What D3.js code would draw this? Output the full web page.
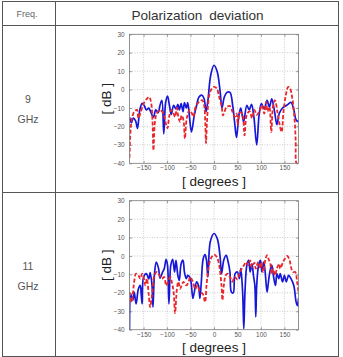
<!DOCTYPE html>
<html>
<head>
<meta charset="utf-8">
<script src="https://cdn.jsdelivr.net/npm/d3@7"></script>
<style>
  body { margin: 0; background: #fff; }
  svg { display: block; font-family: "Liberation Sans", Arial, sans-serif; }
</style>
</head>
<body>
<div id="chart"></div>
<script>
// ------ DATA ------
const freqs = ["9", "11"]
const xTicks = [-150, -100, -50, 0, 50, 100, 150]
const yTicks = [-40, -30, -20, -10, 0, 10, 20, 30]

// [degrees, dB]
const blue_9 = [
  [-180,-15],[-176,-18],[-172,-15.5],[-167,-17],[-163,-21],[-158,-11],[-153,-7.5],[-149,-8.5],
  [-144,-11],[-139,-10],[-135,-12],[-129,-15],[-124,-11],[-119,-12.5],[-115,-8.5],[-111,-5.8],
  [-107,-24],[-103,-7],[-99,-3.6],[-95,-8.5],[-91,-13.5],[-86,-8.5],[-81,-10.5],[-77,-8],
  [-74,-11],[-70,-7.6],[-66,-12],[-63,-7],[-59,-10],[-56,-7],[-52,-15.5],[-48,-23],
  [-42,-14],[-37,-8.5],[-32,-4],[-26,-3],[-21,-5],[-17,-12],[-13,-6],[-7,7.8],
  [0,13.2],[7,9.6],[13,-1],[17,-10],[22,-4],[28,-1.5],[34,-1.5],[40,-9],[44,-18],[48,-26],
  [53,-14],[57,-10],[63,-17.5],[70,-8.5],[75,-11],[80,-8],[85,-15],[91,-30],[96,-14],
  [101,-7.6],[107,-10.5],[113,-5.8],[118,-9.5],[123,-5],[129,-12],[134,-19],[139,-13],
  [146,-10],[155,-8.5],[164,-7],[170,-11],[175,-16.5],[180,-17.5]
]
const red_9 = [
  [-180,-37],[-178,-23],[-175,-16],[-170,-12],[-164,-11],[-161,-15.5],[-157,-13],[-150,-7.6],
  [-143,-5],[-138,-4],[-134,-7],[-131,-17],[-129,-33],[-126,-18],[-122,-13],[-115,-11],
  [-108,-13],[-102,-19],[-99,-21],[-95,-14],[-90,-11],[-86,-13],[-83,-14.8],[-79,-10],
  [-76,-14.8],[-72,-17.5],[-69,-14],[-65,-16.6],[-62,-26.6],[-58,-15.5],[-52,-11],[-47,-13],
  [-44,-14.8],[-40,-10],[-35,-7.6],[-30,-6.3],[-25,-5.8],[-21,-8.5],[-18.5,-19],[-17,-29],
  [-15,-17.5],[-10,-3],[-5,0.5],[0,1.5],[6,0.6],[11,-4],[16,-8.5],[19,-14],[21,-13],
  [27,-9.4],[34,-8.9],[39,-11.8],[44,-14.8],[48,-13],[51,-19.3],[55,-12.5],[60,-13],
  [65,-24.8],[70,-13.5],[76,-11.8],[81,-15.5],[86,-11],[91,-13.7],[97,-11.8],[102,-8.5],
  [107,-13],[111,-6.7],[114,-12],[118,-9.4],[122,-23],[126,-8.5],[130,-5.8],[135,-12],
  [140,-19.3],[144,-23],[148,-12],[153,-3],[158,1.5],[162,0.6],[167,-5],[172,-17.5],
  [174,-28],[176,-40],[180,-40]
]
const blue_11 = [
  [-180,-40],[-177,-21],[-173,-24],[-170,-19.6],[-166,-26],[-161,-17.8],[-157,-16],[-155,-21],
  [-153,-26],[-150,-11.4],[-144,-9.6],[-139,-12.5],[-136,-9],[-132,-16],[-130,-27.7],[-127,-10.5],
  [-123,-3.3],[-118,-6.9],[-115,-12],[-110,-9],[-106,-6.9],[-102,-1.8],[-99,-5],[-96,-26],
  [-92,-5],[-88,-1.8],[-84,-8.7],[-81,-2.4],[-77,-10.5],[-74,-13.2],[-70,-4.2],[-66,-2.3],
  [-63,-8.7],[-59,-12.3],[-56,-10.5],[-52,-11.4],[-49,-14],[-45,-23],[-42,-19.6],[-37,-14],
  [-33,-16],[-30,-23],[-27,-14],[-23,-1.5],[-19,0.7],[-16,-2.3],[-13,-11.4],[-8,7.6],
  [0,12.2],[7,9.4],[13,-0.5],[16,-9.6],[21,-2],[26,0.4],[30,-3],[34,-8.7],[37,-19.6],
  [41,-20],[45,-9.6],[50,-8.7],[54,-12.3],[57,-6.9],[61,-19.6],[63.5,-39.5],[66,-19.6],
  [70,-5],[74,-2.4],[77,-8.7],[81,-4.2],[84,-10.5],[87,-16],[89,-33],[91,-16],[95,-5],
  [99,-2.4],[102,-8.7],[106,-3.3],[109,-8.7],[113,-19.6],[116,-14],[119,-8.7],[123,-5],
  [127,-11.4],[131,-16],[134,-9.6],[138,-12.3],[141,-9.6],[146,-14],[150,-10.5],[154,-14],
  [159,-10.5],[164,-12.3],[170,-16],[175,-25],[178,-27],[180,-23]
]
const red_11 = [
  [-180,-19.6],[-175,-25],[-171,-16],[-166,-9.6],[-161,-10.5],[-157,-12.3],[-153,-9.6],[-150,-11.4],
  [-146,-16],[-143,-12.3],[-139,-21],[-136,-27.7],[-132,-21],[-127,-10.5],[-122,-8.7],[-116,-10.5],
  [-111,-12.3],[-106,-11.4],[-102,-16],[-98,-14],[-93,-11.4],[-90,-14],[-86,-19.6],[-83,-31],
  [-79,-17.8],[-76,-14],[-72,-17.8],[-69,-16],[-65,-14],[-59,-16],[-54,-14],[-51,-11.4],
  [-45,-14],[-40,-17.8],[-35,-16],[-30,-19.6],[-24,-20.5],[-19,-25],[-16,-16],[-12,-6.9],
  [-7,-1.5],[0,0.7],[6,-0.5],[11,-5],[16,-16],[18,-24],[21,-16],[25,-10.5],[30,-9.6],
  [34,-11.4],[39,-14],[44,-11.4],[50,-12.7],[54,-9.6],[59,-6.9],[64,-5],[68,-3.3],[73,-5],
  [77,-2.4],[81,-6],[86,-3.6],[89,-6.9],[94,-3.3],[99,-6.9],[101,-3.3],[105,-8.7],[109,-2.4],
  [113,0.4],[116,-1.5],[120,-4.2],[123,-9.6],[126,-6.9],[130,-10.5],[134,-6.9],[139,-4.2],
  [141,-6.9],[147,-3.3],[151,-1.5],[156,0],[161,-2.3],[164,-6],[168,-8.7],[173,-8.7],
  [177,-14],[180,-19.6]
]

const panels = [
  {freq: freqs[0], blue: blue_9, red: red_9, top: 34.3},
  {freq: freqs[1], blue: blue_11, red: red_11, top: 200.7}
]

// ------ TABLE ------
const W = 343, H = 357
const svg = d3.select("#chart").append("svg")
  .attr("width", W).attr("height", H)

const tbl = svg.append("g")
  .attr("fill", "none")
  .attr("stroke", "#555")
  .attr("stroke-width", 1)
tbl.append("rect").attr("x", 2.5).attr("y", 1.5).attr("width", 336).attr("height", 355)
tbl.append("line").attr("x1", 2.5).attr("x2", 338.5).attr("y1", 25.5).attr("y2", 25.5)
tbl.append("line").attr("x1", 2.5).attr("x2", 338.5).attr("y1", 192.5).attr("y2", 192.5)
tbl.append("line").attr("x1", 55.5).attr("x2", 55.5).attr("y1", 1.5).attr("y2", 356.5)

svg.append("text").attr("x", 27).attr("y", 16.5)
  .attr("text-anchor", "middle").attr("font-size", 9).attr("fill", "#666")
  .text("Freq.")
svg.append("text").attr("x", 197.5).attr("y", 19.5)
  .attr("text-anchor", "middle").attr("font-size", 13.6).attr("fill", "#333")
  .attr("word-spacing", 3)
  .text("Polarization deviation")

// ------ PLOTS ------
const x0 = 129.5, x1 = 298.5, plotH = 129
const x = d3.scaleLinear().domain([-180, 180]).range([x0, x1])

panels.forEach(function(p, i) {
  const y = d3.scaleLinear().domain([-40, 30]).range([p.top + plotH, p.top])
  const g = svg.append("g")

  // frequency label
  const labY = i == 0 ? [103, 123] : [270, 290]
  g.append("text").attr("x", 28).attr("y", labY[0])
    .attr("text-anchor", "middle").attr("font-size", 10.5).attr("fill", "#555")
    .text(p.freq)
  g.append("text").attr("x", 28).attr("y", labY[1])
    .attr("text-anchor", "middle").attr("font-size", 10.5).attr("fill", "#555")
    .text("GHz")

  // grid
  g.append("g").selectAll("line").data(xTicks).join("line")
    .attr("x1", d => x(d)).attr("x2", d => x(d))
    .attr("y1", p.top).attr("y2", p.top + plotH)
    .attr("stroke", "#aaa").attr("stroke-width", 0.6).attr("stroke-dasharray", "1,1.5")
  g.append("g").selectAll("line").data(yTicks.slice(1, -1)).join("line")
    .attr("x1", x0).attr("x2", x1)
    .attr("y1", d => y(d)).attr("y2", d => y(d))
    .attr("stroke", "#aaa").attr("stroke-width", 0.6).attr("stroke-dasharray", "1,1.5")

  // axes (MATLAB style inward ticks)
  const axB = g.append("g").attr("transform", `translate(0,${p.top + plotH})`)
    .call(d3.axisBottom(x).tickValues(xTicks).tickSize(-2.5).tickPadding(4))
  const axT = g.append("g").attr("transform", `translate(0,${p.top})`)
    .call(d3.axisTop(x).tickValues(xTicks).tickSize(-2.5).tickFormat(""))
  const axL = g.append("g").attr("transform", `translate(${x0},0)`)
    .call(d3.axisLeft(y).tickValues(yTicks).tickSize(-2.5).tickPadding(5))
  const axR = g.append("g").attr("transform", `translate(${x1},0)`)
    .call(d3.axisRight(y).tickValues(yTicks).tickSize(-2.5).tickFormat(""))
  ;[axB, axT, axL, axR].forEach(function(a) {
    a.select(".domain").remove()
    a.selectAll("line").attr("stroke", "#777").attr("stroke-width", 0.7)
    a.selectAll("text").attr("font-size", 6.4).attr("fill", "#555")
      .attr("font-family", "Liberation Sans, Arial, sans-serif")
  })
  axB.selectAll("text").attr("dy", "0.5em")

  // curves
  const clipId = "clip" + i
  svg.append("clipPath").attr("id", clipId).append("rect")
    .attr("x", x0).attr("y", p.top).attr("width", x1 - x0).attr("height", plotH)

  const line = d3.line()
    .x(d => x(d[0])).y(d => y(d[1]))
    .curve(d3.curveCatmullRom.alpha(0.5))

  g.append("path").datum(p.blue)
    .attr("clip-path", `url(#${clipId})`)
    .attr("fill", "none").attr("stroke", "#1717d8").attr("stroke-width", 1.7)
    .attr("d", line)
  g.append("path").datum(p.red)
    .attr("clip-path", `url(#${clipId})`)
    .attr("fill", "none").attr("stroke", "#e8262b").attr("stroke-width", 1.8)
    .attr("stroke-dasharray", "4,2")
    .attr("d", line)

  // frame
  g.append("rect").attr("x", x0).attr("y", p.top)
    .attr("width", x1 - x0).attr("height", plotH)
    .attr("fill", "none").attr("stroke", "#777").attr("stroke-width", 0.8)

  // axis titles
  g.append("text").attr("x", (x0 + x1) / 2).attr("y", p.top + plotH + 22.7)
    .attr("text-anchor", "middle").attr("font-size", 13.5).attr("fill", "#222")
    .text("[ degrees ]")
  g.append("text")
    .attr("transform", `translate(111,${p.top + plotH / 2}) rotate(-90)`)
    .attr("text-anchor", "middle").attr("font-size", 13.5).attr("fill", "#222")
    .text("[ dB ]")
})
</script>
</body>
</html>
